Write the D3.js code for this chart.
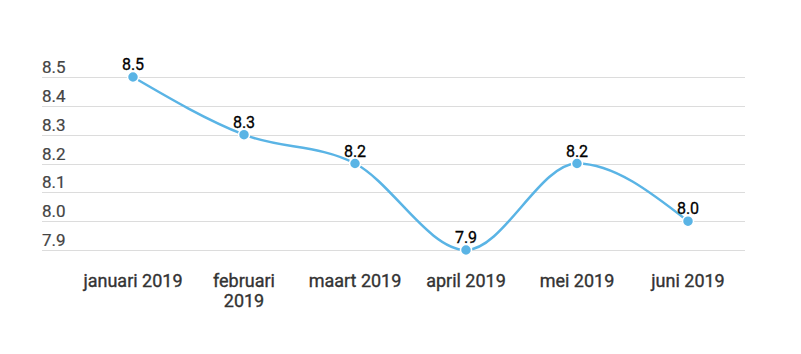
<!DOCTYPE html>
<html>
<head>
<meta charset="utf-8">
<script src="https://cdn.jsdelivr.net/npm/d3@7"></script>
<style>
  body { margin: 0; background: #fff; }
  svg { font-family: Roboto, "Noto Sans", sans-serif; }
</style>
</head>
<body>
<svg id="chart" width="801" height="354"></svg>
<script>
const months = ["januari 2019", "februari 2019", "maart 2019", "april 2019", "mei 2019", "juni 2019"];
const values = [8.5, 8.3, 8.2, 7.9, 8.2, 8.0];
const yTicks = [7.9, 8.0, 8.1, 8.2, 8.3, 8.4, 8.5];

const width = 801, height = 354;
const gridLeft = 42, gridRight = 745;

const svg = d3.select("#chart");

const x = d3.scaleBand()
  .domain(months)
  .range([77.5, 743.5]);

const y = d3.scaleLinear()
  .domain([7.9, 8.5])
  .range([250, 77]);

const cx = (i) => x(months[i]) + x.bandwidth() / 2;

// gridlines + tick labels
const grid = svg.append("g");
grid.selectAll("line")
  .data(yTicks)
  .join("line")
  .attr("x1", gridLeft)
  .attr("x2", gridRight)
  .attr("y1", (d) => Math.round(y(d)) + 0.5)
  .attr("y2", (d) => Math.round(y(d)) + 0.5)
  .attr("stroke", "#dcdcdc")
  .attr("stroke-width", 1);

grid.selectAll("text")
  .data(yTicks)
  .join("text")
  .attr("x", gridLeft)
  .attr("y", (d) => y(d) - 4)
  .attr("fill", "#444")
  .attr("stroke", "#444")
  .attr("stroke-width", 0.2)
  .style("font-size", "17px")
  .text((d) => d.toFixed(1));

// x labels, wrapped to band width (medium weight faked with a hairline stroke)
const xl = svg.append("g");
months.forEach((m, i) => {
  const t = xl.append("text")
    .attr("x", cx(i))
    .attr("y", 287)
    .attr("text-anchor", "middle")
    .attr("fill", "#333")
    .attr("stroke", "#333")
    .attr("stroke-width", 0.35)
    .style("font-size", "18px");
  const words = m.split(" ");
  let line = [];
  let tspan = t.append("tspan").attr("x", cx(i)).attr("dy", 0);
  words.forEach((w) => {
    line.push(w);
    tspan.text(line.join(" "));
    if (tspan.node().getComputedTextLength() > 106 && line.length > 1) {
      line.pop();
      tspan.text(line.join(" "));
      line = [w];
      tspan = t.append("tspan")
        .attr("x", cx(i))
        .attr("dy", 20)
        .text(w);
    }
  });
});

// line
const line = d3.line()
  .x((d, i) => cx(i))
  .y((d) => y(d))
  .curve(d3.curveMonotoneX);

svg.append("path")
  .datum(values)
  .attr("d", line)
  .attr("fill", "none")
  .attr("stroke", "#5ab4e5")
  .attr("stroke-width", 2.5);

// points
svg.append("g")
  .selectAll("circle")
  .data(values)
  .join("circle")
  .attr("cx", (d, i) => cx(i))
  .attr("cy", (d) => y(d))
  .attr("r", 5.5)
  .attr("fill", "#5ab4e5")
  .attr("stroke", "#fff")
  .attr("stroke-width", 1.5);

// value labels
svg.append("g")
  .selectAll("text")
  .data(values)
  .join("text")
  .attr("x", (d, i) => cx(i))
  .attr("y", (d) => y(d) - 7)
  .attr("text-anchor", "middle")
  .attr("fill", "#000")
  .attr("stroke", "#000")
  .attr("stroke-width", 0.3)
  .style("font-size", "16px")
  .text((d) => d.toFixed(1));
</script>
</body>
</html>
